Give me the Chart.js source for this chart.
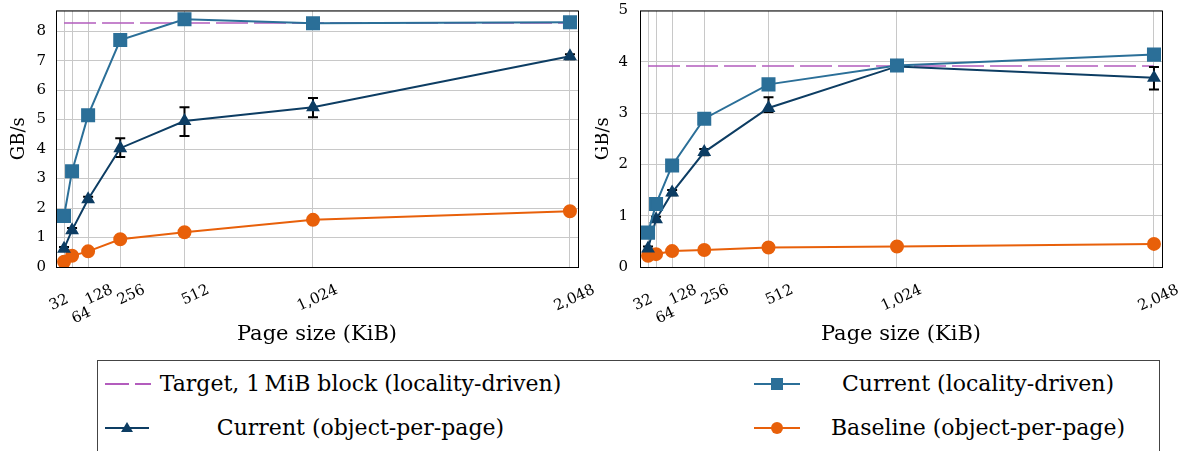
<!DOCTYPE html>
<html>
<head>
<meta charset="utf-8">
<script src="https://cdn.jsdelivr.net/npm/chart.js@4"></script>
<style>
  body { margin: 0; background: #fff; width: 1194px; height: 451px; overflow: hidden; position: relative; font-family: "DejaVu Serif", "Liberation Serif", serif; }
  canvas { position: absolute; top: 0; }
  #left { left: 0; }
  #right { left: 595px; }
  #legend { position: absolute; left: 97px; top: 360px; width: 1063px; height: 100px; border: 1px solid #444; box-sizing: border-box; }
  .item { position: absolute; height: 40px; font-size: 22px; line-height: 40px; color: #000; }
  .item svg { position: absolute; top: 14px; }
  .item span { position: absolute; text-align: center; white-space: nowrap; }
</style>
</head>
<body>
<canvas id="left" width="595" height="350"></canvas>
<canvas id="right" width="599" height="350"></canvas>
<div id="legend">
  <div class="item" style="left:0;top:3px;width:520px">
    <svg width="50" height="12" style="left:7px"><line x1="0" y1="6" x2="46" y2="6" stroke="#b35cbd" stroke-width="2" stroke-dasharray="24,6"/></svg>
    <span style="left:60px;width:405px">Target, 1&#8201;MiB block (locality-driven)</span>
  </div>
  <div class="item" style="left:0;top:47px;width:520px">
    <svg width="50" height="14" style="left:7px;top:13px"><line x1="0" y1="7" x2="44" y2="7" stroke="#0d3d63" stroke-width="2"/><polygon points="22,1 28,11 16,11" fill="#0d3d63"/></svg>
    <span style="left:60px;width:405px">Current (object-per-page)</span>
  </div>
  <div class="item" style="left:656px;top:3px;width:400px">
    <svg width="50" height="14" style="left:0;top:13px"><line x1="0" y1="7" x2="46" y2="7" stroke="#2b6f98" stroke-width="2"/><rect x="17" y="1" width="12" height="12" fill="#2b6f98"/></svg>
    <span style="left:54px;width:340px">Current (locality-driven)</span>
  </div>
  <div class="item" style="left:656px;top:47px;width:400px">
    <svg width="50" height="14" style="left:0;top:13px"><line x1="0" y1="7" x2="46" y2="7" stroke="#e8600a" stroke-width="2"/><circle cx="23" cy="7" r="6" fill="#e8600a"/></svg>
    <span style="left:54px;width:340px">Baseline (object-per-page)</span>
  </div>
</div>
<script>
// page sizes on the x axis
const pageSizes = [32, 64, 128, 256, 512, 1024, 2048];
const tickLabels = ["32", "64", "128", "256", "512", "1,024", "2,048"];

// left panel
const leftLocality = [1.73, 3.25, 5.15, 7.7, 8.4, 8.27, 8.3];
const leftObject = [0.62, 1.25, 2.3, 4.03, 4.95, 5.42, 7.15];
const leftObjectLow = [0.56, 1.18, 2.22, 3.73, 4.44, 5.08, 7.05];
const leftObjectHigh = [0.68, 1.32, 2.38, 4.37, 5.42, 5.73, 7.22];
const leftBaseline = [0.18, 0.38, 0.53, 0.94, 1.18, 1.6, 1.89];
const leftTarget = 8.28;

// right panel
const rightLocality = [0.67, 1.23, 1.98, 2.89, 3.56, 3.93, 4.14];
const rightObject = [0.36, 0.93, 1.45, 2.24, 3.1, 3.91, 3.69];
const rightObjectLow = [0.32, 0.88, 1.4, 2.18, 3.02, 3.87, 3.46];
const rightObjectHigh = [0.4, 0.98, 1.5, 2.3, 3.31, 3.95, 3.9];
const rightBaseline = [0.22, 0.25, 0.31, 0.33, 0.38, 0.4, 0.45];
const rightTarget = 3.92;

const serif = "'DejaVu Serif', 'Liberation Serif', serif";

const framePlugin = {
  id: "frame",
  beforeDatasetsDraw(chart) {
    const a = chart.chartArea, ctx = chart.ctx;
    ctx.save();
    ctx.strokeStyle = "#000";
    ctx.lineWidth = 1;
    ctx.strokeRect(a.left + 0.5, a.top + 0.5, a.right - a.left, a.bottom - a.top);
    ctx.restore();
  }
};

const errorBarPlugin = {
  id: "errorBars",
  beforeDatasetDraw(chart, args, opts) {
    if (args.index !== opts.datasetIndex) return;
    const ctx = chart.ctx, x = chart.scales.x, y = chart.scales.y;
    ctx.save();
    ctx.strokeStyle = "#000";
    ctx.lineWidth = 2;
    pageSizes.forEach((p, i) => {
      const px = x.getPixelForValue(p);
      const lo = y.getPixelForValue(opts.low[i]);
      const hi = y.getPixelForValue(opts.high[i]);
      ctx.beginPath();
      ctx.moveTo(px, lo); ctx.lineTo(px, hi);
      ctx.moveTo(px - 5, lo); ctx.lineTo(px + 5, lo);
      ctx.moveTo(px - 5, hi); ctx.lineTo(px + 5, hi);
      ctx.stroke();
    });
    ctx.restore();
  }
};

function points(vals) {
  return pageSizes.map((p, i) => ({ x: p, y: vals[i] }));
}

// the small page sizes sit close together, nudge their labels apart
function tickText(v) {
  const label = tickLabels[pageSizes.indexOf(v)];
  if (v === 32) return label + "\u2002\u2002\u2002";
  if (v === 64) return ["", label + "\u2002\u2002"];
  return label;
}

function makeChart(id, d) {
  return new Chart(document.getElementById(id), {
    type: "line",
    data: {
      datasets: [
        {
          data: [{ x: pageSizes[0], y: d.target }, { x: pageSizes[pageSizes.length - 1], y: d.target }],
          borderColor: "#b35cbd", borderWidth: 1.5, borderDash: [32, 6], pointRadius: 0, order: 4
        },
        {
          data: points(d.locality), borderColor: "#2b6f98", backgroundColor: "#2b6f98",
          borderWidth: 2, pointStyle: "rect", pointRadius: 8.5, order: 1
        },
        {
          data: points(d.object), borderColor: "#0d3d63", backgroundColor: "#0d3d63",
          borderWidth: 2, pointStyle: "triangle", pointRadius: 6, order: 2
        },
        {
          data: points(d.baseline), borderColor: "#e8600a", backgroundColor: "#e8600a",
          borderWidth: 2, pointStyle: "circle", pointRadius: 6, order: 3
        }
      ]
    },
    options: {
      responsive: false,
      animation: false,
      devicePixelRatio: 1,
      layout: { padding: { top: 10, right: d.padRight, left: 0, bottom: 0 } },
      plugins: {
        legend: { display: false },
        tooltip: { enabled: false },
        errorBars: { datasetIndex: 2, low: d.low, high: d.high }
      },
      scales: {
        x: {
          type: "linear", min: 0, max: 2080,
          afterBuildTicks: (s) => { s.ticks = pageSizes.map(v => ({ value: v })); },
          afterFit: (s) => { s.height = 83; s.paddingLeft = 0; s.paddingRight = 0; },
          grid: { color: "#c8c8c8", drawTicks: false },
          border: { display: false },
          ticks: {
            autoSkip: false, minRotation: 25, maxRotation: 25, padding: 14, labelOffset: 24,
            color: "#000", font: { family: serif, size: 15 },
            callback: tickText
          },
          title: { display: true, text: "Page size (KiB)", color: "#000", font: { family: serif, size: 21 }, padding: { top: 0, bottom: 3 } }
        },
        y: {
          min: 0, max: d.yMax,
          afterFit: (s) => { s.width = d.yWidth; s.paddingTop = 0; s.paddingBottom = 0; },
          grid: { color: "#c8c8c8", drawTicks: false },
          border: { display: false },
          ticks: {
            stepSize: 1, padding: d.tickPad, color: "#000", font: { family: serif, size: 15 },
            callback: (v) => Number.isInteger(v) ? String(v) : ""
          },
          title: { display: true, text: "GB/s", color: "#000", font: { family: serif, size: 18 }, padding: { top: d.titlePad, bottom: 0 } }
        }
      }
    },
    plugins: [framePlugin, errorBarPlugin]
  });
}

makeChart("left", {
  target: leftTarget, locality: leftLocality, object: leftObject, baseline: leftBaseline,
  low: leftObjectLow, high: leftObjectHigh, yMax: 8.7, yWidth: 56, padRight: 17, tickPad: 10, titlePad: 9
});
makeChart("right", {
  target: rightTarget, locality: rightLocality, object: rightObject, baseline: rightBaseline,
  low: rightObjectLow, high: rightObjectHigh, yMax: 5, yWidth: 45, padRight: 32, tickPad: 12, titlePad: -2
});
</script>
</body>
</html>
